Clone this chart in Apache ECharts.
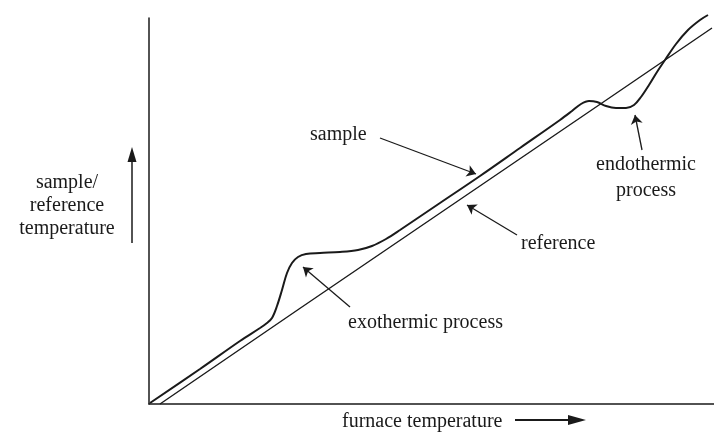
<!DOCTYPE html>
<html>
<head>
<meta charset="utf-8">
<script src="https://cdn.jsdelivr.net/npm/echarts@6/dist/echarts.min.js"></script>
<style>html,body{margin:0;padding:0;background:#fff}#c{width:714px;height:433px}</style>
</head>
<body>
<div id="c"></div>
<script>
// Furnace temperature (arbitrary units) and sample / reference temperatures (arbitrary units)
const sampleX = [1, 51, 91, 111, 118, 123, 128, 133, 138, 143, 149, 157, 171, 191, 209, 223, 237, 251, 291, 331, 371, 411, 423, 432, 440, 448, 457, 467, 477, 485, 492, 500, 508, 516, 527, 539, 551, 559];
const sampleY = [1, 35, 63, 76, 81, 86, 98, 114, 131, 141, 147, 150, 151, 152, 154, 158, 165, 174, 201, 228, 256, 284, 293, 300, 303, 302, 298, 296, 296, 299, 307, 319, 332, 344, 360, 374, 384, 389];
const refX = [11, 150, 300, 450, 563];
const refY = [0, 95, 197, 299, 376];

const labels = {
  yTitle: ['sample/', 'reference', 'temperature'],
  xTitle: 'furnace temperature',
  sample: 'sample',
  reference: 'reference',
  exo: 'exothermic process',
  endo: ['endothermic', 'process']
};

const pair = (xs, ys) => xs.map((x, i) => [x, ys[i]]);
const ink = '#1a1a1a';
const font = '"Liberation Serif", "DejaVu Serif", serif';
const fs = 20;

const chart = echarts.init(document.getElementById('c'));
const arrowLine = (a, b) => [{ coord: a }, { coord: b }];

chart.setOption({
  backgroundColor: '#ffffff',
  animation: false,
  grid: { left: 149, right: 0, top: 18, bottom: 29, containLabel: false },
  xAxis: {
    type: 'value', min: 0, max: 565,
    axisLine: { show: true, lineStyle: { color: ink, width: 1.5 } },
    axisTick: { show: false }, axisLabel: { show: false }, splitLine: { show: false }
  },
  yAxis: {
    type: 'value', min: 0, max: 386,
    axisLine: { show: true, lineStyle: { color: ink, width: 1.5 } },
    axisTick: { show: false }, axisLabel: { show: false }, splitLine: { show: false }
  },
  series: [
    {
      name: labels.sample, type: 'line', data: pair(sampleX, sampleY),
      smooth: 0.35, symbol: 'none', clip: false,
      lineStyle: { color: ink, width: 2 }
    },
    {
      name: labels.reference, type: 'line', data: pair(refX, refY),
      symbol: 'none', clip: false,
      lineStyle: { color: ink, width: 1.4 },
      markLine: {
        silent: true, animation: false,
        symbol: ['none', 'arrow'], symbolSize: 9,
        label: { show: false },
        lineStyle: { color: ink, width: 1.3, type: 'solid' },
        data: [
          arrowLine([231, 266], [327, 230]),
          arrowLine([368, 169], [318, 199]),
          arrowLine([201, 97], [154, 137]),
          arrowLine([493, 254], [486, 289])
        ]
      }
    }
  ],
  graphic: [
    ...labels.yTitle.map((t, i) => ({
      type: 'text', x: 67, y: 183 + i * 23,
      style: { text: t, font: `${fs}px ${font}`, fill: ink, align: 'center', verticalAlign: 'middle' }
    })),
    { type: 'line', shape: { x1: 132, y1: 243, x2: 132, y2: 158 }, style: { stroke: ink, lineWidth: 1.5 } },
    { type: 'polygon', shape: { points: [[132, 147], [127.5, 162], [136.5, 162]] }, style: { fill: ink } },
    { type: 'text', x: 342, y: 422,
      style: { text: labels.xTitle, font: `${fs}px ${font}`, fill: ink, align: 'left', verticalAlign: 'middle' } },
    { type: 'line', shape: { x1: 515, y1: 420, x2: 572, y2: 420 }, style: { stroke: ink, lineWidth: 2.2 } },
    { type: 'polygon', shape: { points: [[586, 420], [568, 415], [568, 425]] }, style: { fill: ink } },
    { type: 'text', x: 310, y: 135,
      style: { text: labels.sample, font: `${fs}px ${font}`, fill: ink, align: 'left', verticalAlign: 'middle' } },
    { type: 'text', x: 521, y: 244,
      style: { text: labels.reference, font: `${fs}px ${font}`, fill: ink, align: 'left', verticalAlign: 'middle' } },
    { type: 'text', x: 348, y: 323,
      style: { text: labels.exo, font: `${fs}px ${font}`, fill: ink, align: 'left', verticalAlign: 'middle' } },
    ...labels.endo.map((t, i) => ({
      type: 'text', x: 646, y: 165 + i * 26,
      style: { text: t, font: `${fs}px ${font}`, fill: ink, align: 'center', verticalAlign: 'middle' }
    }))
  ]
});
</script>
</body>
</html>
